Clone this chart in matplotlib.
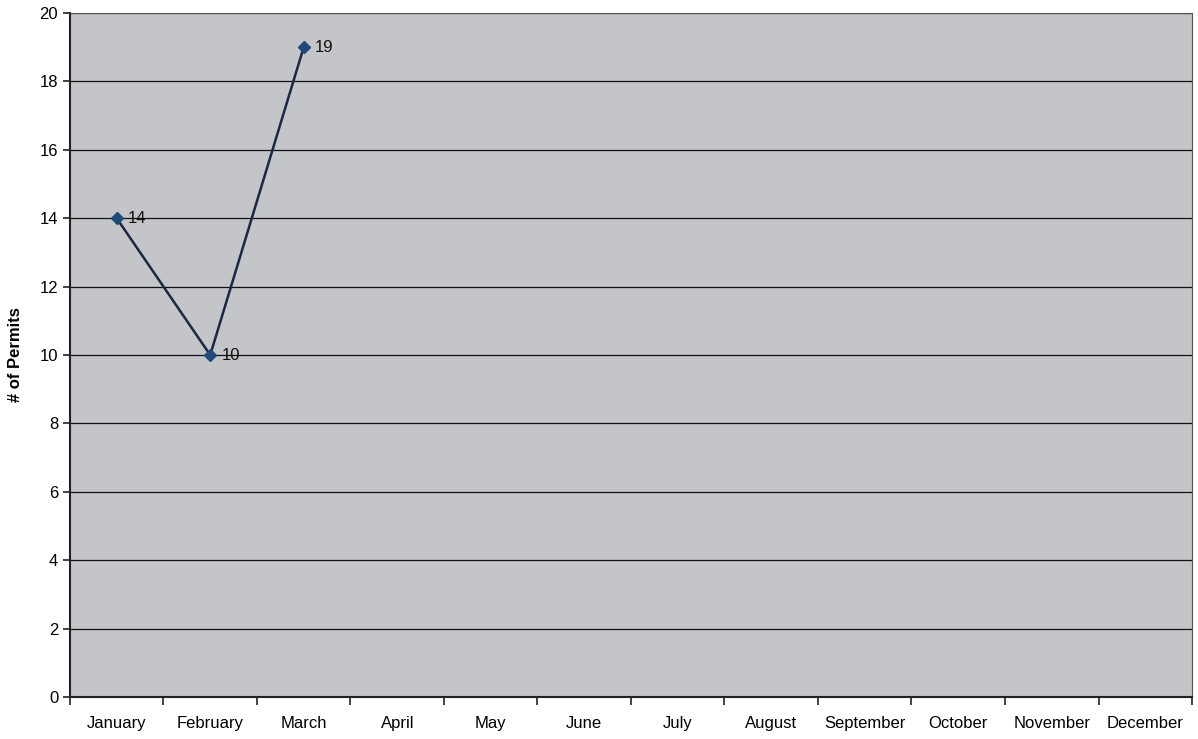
import matplotlib
matplotlib.use("Agg")
import matplotlib.pyplot as plt
import numpy as np

MONTHS = ["January", "February", "March", "April", "May", "June", "July",
          "August", "September", "October", "November", "December"]
PERMITS = [14, 10, 19]

plt.rcParams["font.family"] = ["Liberation Sans", "DejaVu Sans"]

fig = plt.figure(figsize=(11.98, 7.39), dpi=100)
ax = fig.add_axes([0.0584, 0.0568, 0.9366, 0.9256])
ax.set_facecolor("#c3c5c8")

x = np.arange(len(PERMITS))
ax.plot(x, PERMITS, color="#1c2647", lw=1.8, marker="D", ms=6,
        mfc="#1f4a7a", mec="#1f4a7a", zorder=3)
for xi, v in zip(x, PERMITS):
    ax.annotate(str(v), (xi, v), xytext=(8, 0), textcoords="offset points",
                va="center", ha="left", fontsize=12, color="#111111")

ax.set_xlim(-0.5, len(MONTHS) - 0.5)
ax.set_ylim(0, 20)
ax.set_yticks(range(0, 21, 2))
ax.yaxis.grid(True, color="#111111", lw=0.9)
ax.set_axisbelow(True)

ax.set_xticks(np.arange(-0.5, len(MONTHS), 1.0))
ax.set_xticklabels([])
ax.set_xticks(np.arange(len(MONTHS)), minor=True)
ax.set_xticklabels(MONTHS, minor=True, fontsize=12)
ax.tick_params(axis="x", which="major", length=6, width=1.2, color="#222222")
ax.tick_params(axis="x", which="minor", length=0, pad=14)
ax.tick_params(axis="y", length=5, width=1.2, labelsize=12, color="#222222")

for side in ("top", "right"):
    ax.spines[side].set_color("#555555")
    ax.spines[side].set_linewidth(0.8)
for side in ("left", "bottom"):
    ax.spines[side].set_color("#222222")
    ax.spines[side].set_linewidth(1.5)

ax.set_ylabel("# of Permits", fontsize=12, fontweight="bold", labelpad=12)

fig.savefig("out.png", dpi=100)
